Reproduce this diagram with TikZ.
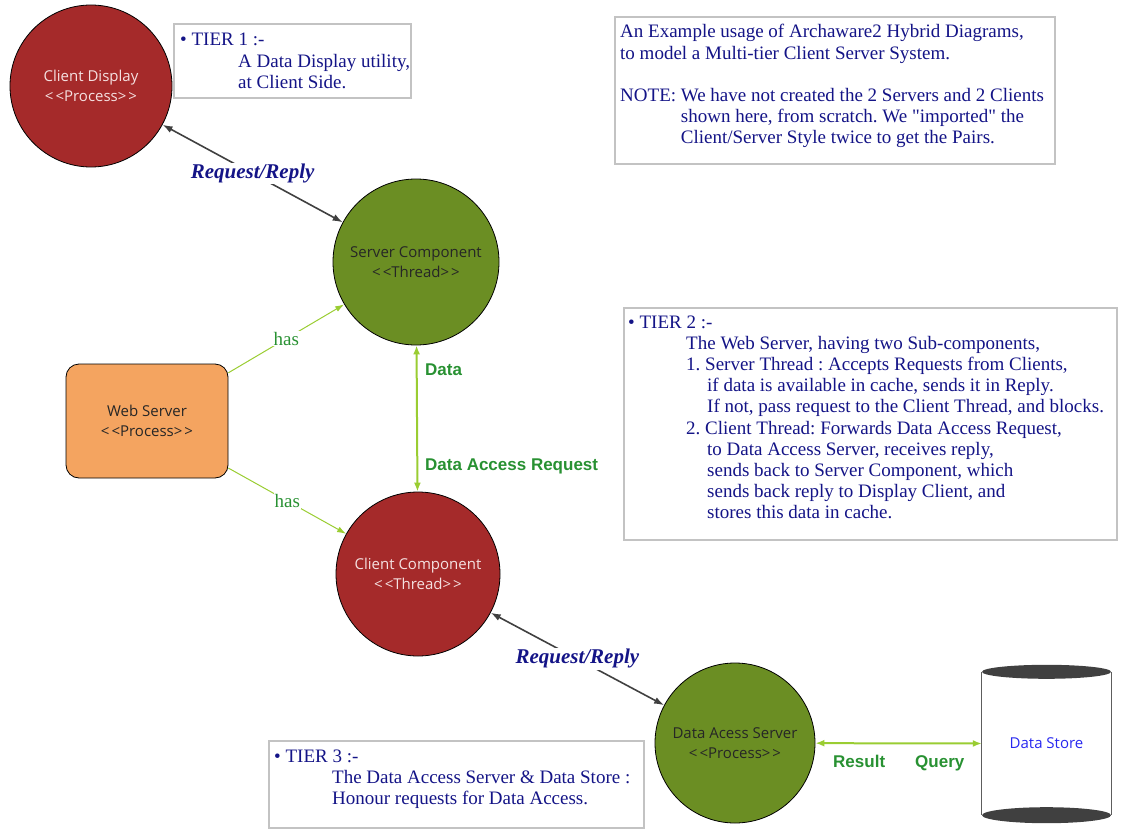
\documentclass[tikz,border=0pt]{standalone}
\usepackage{fontspec}
\setmainfont{Liberation Serif}
\setsansfont{Open Sans}
\newfontfamily\arialfont{Liberation Sans}
\usetikzlibrary{arrows.meta,calc}
\definecolor{procred}{RGB}{165,42,42}
\definecolor{thrgreen}{RGB}{107,142,35}
\definecolor{websand}{RGB}{244,164,96}
\definecolor{linkgreen}{RGB}{154,205,50}
\definecolor{lblgreen}{RGB}{40,145,50}
\definecolor{navytext}{RGB}{20,20,135}
\definecolor{boxgray}{RGB}{195,195,195}
\definecolor{darkline}{RGB}{64,64,64}
\definecolor{storeblue}{RGB}{40,40,240}
\definecolor{paletext}{RGB}{245,225,225}
\newcommand\tind{\hspace*{58pt}}
\newcommand\stereo[1]{<\kern2pt<#1>\kern2pt>}
\frenchspacing
\tikzset{
  comp/.style={circle, draw=black, line width=0.8pt, inner sep=0pt, align=center,
    font=\sffamily\fontsize{15}{20}\selectfont},
  notebox/.style={draw=boxgray, line width=2pt, anchor=north west, inner sep=0pt, fill=white},
  notetext/.style={anchor=base west, inner sep=0pt, text=navytext,
    font=\fontsize{19}{21.2}\selectfont},
  rrlink/.style={draw=darkline, line width=1.6pt,
    arrows={Latex[length=10pt,width=7pt]-Latex[length=10pt,width=7pt]}},
  rrlabel/.style={fill=white, inner sep=1pt, text=navytext,
    font=\bfseries\itshape\fontsize{21}{24}\selectfont},
  haslink/.style={draw=linkgreen, line width=1pt, arrows={-Latex[length=9pt,width=6pt]}},
  haslabel/.style={fill=white, inner sep=1pt, text=lblgreen, font=\fontsize{19}{22}\selectfont},
  datalink/.style={draw=linkgreen, line width=2pt,
    arrows={Latex[length=9pt,width=7pt]-Latex[length=9pt,width=7pt]}},
  datalbl/.style={anchor=base west, inner sep=0pt, text=lblgreen,
    font=\arialfont\bfseries\fontsize{17}{20}\selectfont},
}
\begin{document}
\begin{tikzpicture}[x=1pt,y=-1pt]
\useasboundingbox (0,0) rectangle (1121,832);

% note boxes
\node[notebox, minimum width=237pt, minimum height=74pt] (tier1box) at (173,23) {};
\node[notetext] (tier1text) at (180,46) {\parbox[t]{230pt}{\raggedright
  • TIER 1 :-\\
  \tind A Data Display utility,\\
  \tind at Client Side.}};

\node[notebox, minimum width=440pt, minimum height=147pt] (introbox) at (614,16) {};
\node[notetext] (introtext) at (620,38) {\parbox[t]{430pt}{\raggedright
  An Example usage of Archaware2 Hybrid Diagrams,\\
  to model a Multi-tier Client Server System.\\[21.2pt]
  NOTE: We have not created the 2 Servers and 2 Clients\\
  \hphantom{NOTE: }shown here, from scratch. We \textquotedbl imported\textquotedbl{} the\\
  \hphantom{NOTE: }Client/Server Style twice to get the Pairs.}};

\node[notebox, minimum width=493pt, minimum height=232pt] (tier2box) at (623,307) {};
\node[notetext] (tier2text) at (628,328) {\parbox[t]{485pt}{\raggedright
  • TIER 2 :-\\
  \tind The Web Server, having two Sub-components,\\
  \tind 1. Server Thread : Accepts Requests from Clients,\\
  \tind\hspace*{21pt}if data is available in cache, sends it in Reply.\\
  \tind\hspace*{21pt}If not, pass request to the Client Thread, and blocks.\\
  \tind 2. Client Thread: Forwards Data Access Request,\\
  \tind\hspace*{21pt}to Data Access Server, receives reply,\\
  \tind\hspace*{21pt}sends back to Server Component, which\\
  \tind\hspace*{21pt}sends back reply to Display Client, and\\
  \tind\hspace*{21pt}stores this data in cache.}};

\node[notebox, minimum width=375pt, minimum height=87pt] (tier3box) at (268,740) {};
\node[notetext] (tier3text) at (274,762) {\parbox[t]{365pt}{\raggedright
  • TIER 3 :-\\
  \tind The Data Access Server \& Data Store :\\
  \tind Honour requests for Data Access.}};

% components
\node[comp, fill=procred, text=paletext, minimum size=162pt] (cd) at (91,86)
  {Client Display\\\stereo{Process}};
\node[comp, fill=thrgreen, text=black!85, minimum size=166pt] (sc) at (416,262)
  {Server Component\\\stereo{Thread}};
\node[comp, fill=procred, text=paletext, minimum size=164pt] (cc) at (418,574)
  {Client Component\\\stereo{Thread}};
\node[comp, fill=thrgreen, text=black!85, minimum size=160pt] (das) at (735,743)
  {Data Acess Server\\\stereo{Process}};
\node[draw=black, line width=0.8pt, fill=websand, rounded corners=13pt, text=black!85,
  minimum width=162pt, minimum height=114pt, align=center,
  font=\sffamily\fontsize{15}{20}\selectfont] (ws) at (147,421)
  {Web Server\\\stereo{Process}};

% data store cylinder
\node[inner sep=0pt, minimum width=129pt, minimum height=143pt, text=storeblue,
  font=\sffamily\fontsize{15}{20}\selectfont] (store) at (1046.5,743.5) {Data Store};
\draw[darkline!85, line width=1pt] (store.north west) -- (store.south west)
  (store.north east) -- (store.south east);
\fill[darkline] (store.north) ellipse [x radius=64.5pt, y radius=7pt];
\fill[darkline] (store.south) ellipse [x radius=64.5pt, y radius=8pt];

% connectors
\draw[rrlink] (cd) -- node[rrlabel] (rr1) {Request/Reply} (sc);
\draw[rrlink] (cc) -- node[rrlabel] (rr2) {Request/Reply} (das);

\coordinate (hasA) at ($(ws.north east)!0.08!(ws.south east)$);
\coordinate (hasB) at ($(ws.south east)!0.09!(ws.north east)$);
\draw[haslink] (hasA) -- node[haslabel] (has1) {has} (sc);
\draw[haslink] (hasB) -- node[haslabel] (has2) {has} (cc);

\draw[datalink] (sc) -- (cc);
\draw[datalink] (das) -- (store.west);

\node[datalbl] (ldata) at (425,375) {Data};
\node[datalbl] (ldar) at (425,470) {Data Access Request};
\node[datalbl] (lres) at (833,767) {Result};
\node[datalbl] (lqry) at (915,767) {Query};
\end{tikzpicture}
\end{document}
